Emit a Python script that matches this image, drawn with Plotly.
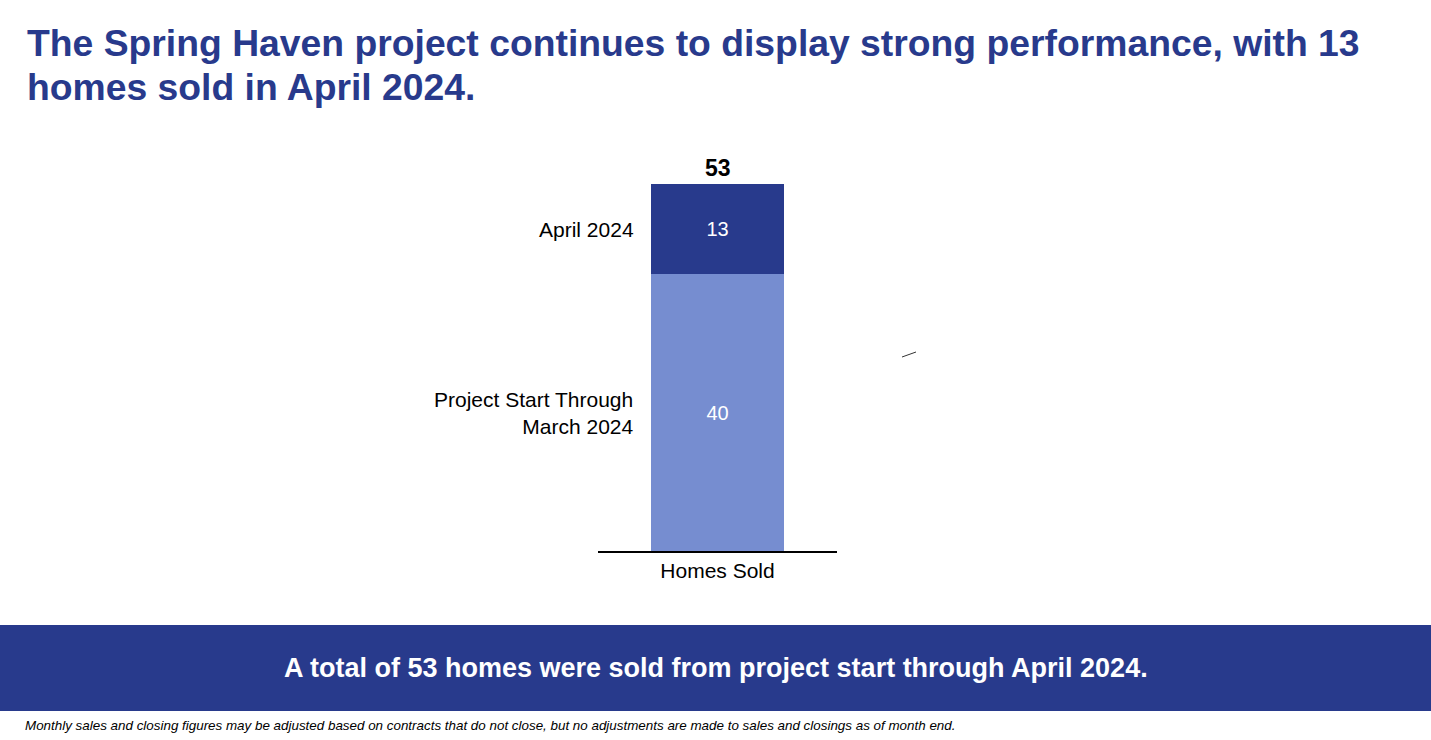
import plotly.graph_objects as go

# data
category = ["Homes Sold"]
segments = ["Project Start Through<br>March 2024", "April 2024"]
values = [40, 13]
colors = ["#768dd0", "#283a8c"]
total = sum(values)

title_lines = [
    "The Spring Haven project continues to display strong performance, with 13",
    "homes sold in April 2024.",
]
banner_text = "A total of %d homes were sold from project start through April 2024." % total
footnote = ("Monthly sales and closing figures may be adjusted based on contracts that do not close, "
            "but no adjustments are made to sales and closings as of month end.")

W, H = 1431, 740
NAVY = "#283a8c"
FONT = "Liberation Sans, Arial, sans-serif"


def px(x):
    return x / W


def py(y):
    return 1 - y / H


fig = go.Figure()
for name, val, col in zip(segments, values, colors):
    fig.add_trace(go.Bar(
        x=category, y=[val], name=name,
        marker=dict(color=col, line=dict(width=0)),
        text=[str(val)], textposition="inside", insidetextanchor="middle",
        textangle=0, textfont=dict(color="white", size=20, family=FONT),
        width=0.556, hoverinfo="skip",
    ))

# segment labels to the left of the bar
base = 0
for name, val in zip(segments, values):
    fig.add_annotation(
        x=-0.278, y=base + val / 2, xref="x", yref="y", text=name,
        showarrow=False, xanchor="right", yanchor="middle", align="right", xshift=-15,
        font=dict(size=21, color="black", family=FONT),
    )
    base += val

# total on top
fig.add_annotation(
    x=0, y=total, xref="x", yref="y", text="<b>%d</b>" % total,
    showarrow=False, yanchor="bottom", xanchor="center", yshift=1,
    font=dict(size=23, color="black", family=FONT),
)

# title, one annotation per line
for i, line in enumerate(title_lines):
    fig.add_annotation(
        x=px(25), y=py(43 + 44 * i), xref="paper", yref="paper",
        xanchor="left", yanchor="middle", showarrow=False,
        text="<b>%s</b>" % line,
        font=dict(size=37.3, color=NAVY, family=FONT),
    )

# banner
fig.add_shape(type="rect", xref="paper", yref="paper", x0=0, x1=1,
              y0=py(711), y1=py(625), fillcolor=NAVY, line=dict(width=0), layer="below")
fig.add_annotation(
    x=0.5, y=py(668), xref="paper", yref="paper", showarrow=False,
    xanchor="center", yanchor="middle",
    text="<b>%s</b>" % banner_text,
    font=dict(size=27, color="white", family=FONT),
)

# footnote
fig.add_annotation(
    x=px(23), y=py(725), xref="paper", yref="paper", xanchor="left", yanchor="middle",
    showarrow=False, text="<i>%s</i>" % footnote,
    font=dict(size=13.4, color="black", family=FONT),
)

# stray tick mark
fig.add_shape(type="line", xref="paper", yref="paper", x0=px(902), y0=py(357),
              x1=px(916), y1=py(352), line=dict(color="#333333", width=1))

fig.update_layout(
    width=W, height=H, barmode="stack", showlegend=False,
    paper_bgcolor="white", plot_bgcolor="white",
    margin=dict(l=0, r=0, t=0, b=0),
    font=dict(family=FONT, color="black"),
    xaxis=dict(domain=[px(598), px(837)], range=[-0.5, 0.5], showline=True,
               linecolor="black", linewidth=1.5, ticks="", showgrid=False,
               tickfont=dict(size=21, color="black", family=FONT), anchor="y"),
    yaxis=dict(domain=[py(551), py(184)], range=[0, total], visible=False,
               showgrid=False, zeroline=False),
)

fig.write_html("out.html", config={"displayModeBar": False},
               post_script="document.body.style.margin='0px';")
